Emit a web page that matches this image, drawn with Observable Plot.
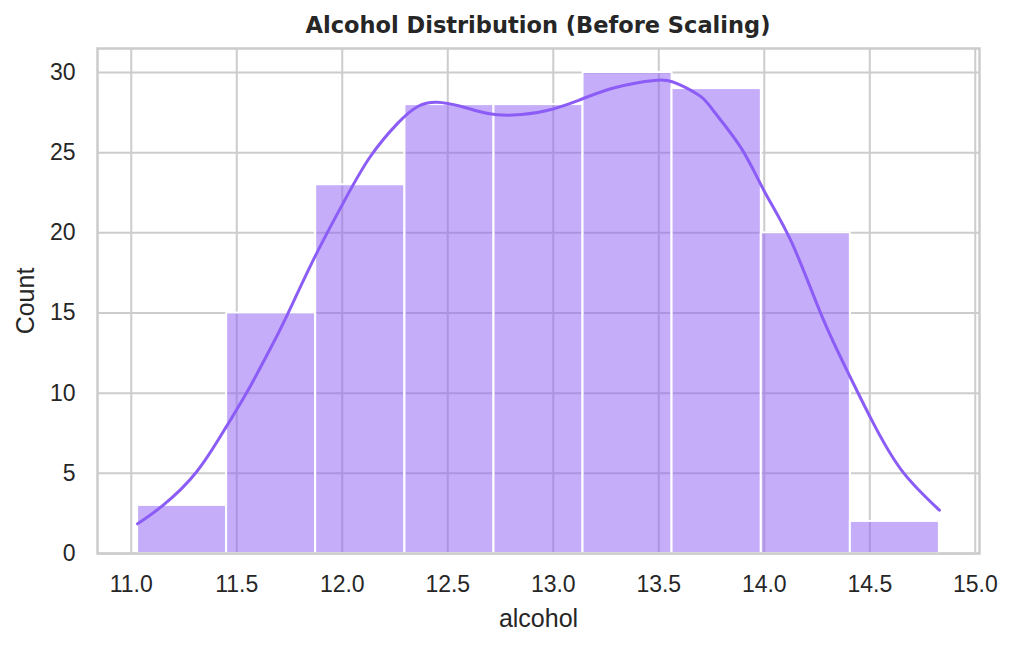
<!DOCTYPE html>
<html>
<head>
<meta charset="utf-8">
<script src="https://cdn.jsdelivr.net/npm/d3@7"></script>
<script src="https://cdn.jsdelivr.net/npm/@observablehq/plot@0.6"></script>
<style>
  html, body { margin: 0; padding: 0; background: #ffffff; }
  #wrap { position: relative; width: 1014px; height: 646px; overflow: hidden; font-family: "Liberation Sans", Arial, sans-serif; }
  #title { position: absolute; left: 97px; width: 882px; top: 14px; text-align: center; font-family: "DejaVu Sans", sans-serif; font-size: 22.5px; line-height: 22px; font-weight: bold; color: #262626; white-space: nowrap; }
  #chart { position: absolute; left: 0; top: 0; }
</style>
</head>
<body>
<div id="wrap">
  <div id="chart"></div>
  <div id="title">Alcohol Distribution (Before Scaling)</div>
</div>
<script>
// Histogram bins (edges) and counts
const binEdges = [11.03, 11.452, 11.874, 12.297, 12.719, 13.141, 13.563, 13.986, 14.408, 14.83];
const counts = [3, 15, 23, 28, 28, 30, 29, 20, 2];

// KDE curve (in count units)
const kdeX = [11.03, 11.15, 11.31, 11.45, 11.55, 11.66, 11.74, 11.87, 12.01, 12.13, 12.26, 12.36, 12.45, 12.56, 12.69, 12.81, 12.96, 13.12, 13.29, 13.48, 13.59, 13.70, 13.76, 13.89, 14.00, 14.13, 14.27, 14.40, 14.51, 14.65, 14.83];
const kdeY = [1.85, 3.0, 5.1, 7.9, 10.1, 12.8, 14.9, 18.5, 22.0, 24.7, 26.8, 27.9, 28.15, 27.9, 27.45, 27.35, 27.6, 28.27, 29.05, 29.51, 29.3, 28.5, 27.6, 25.3, 22.6, 19.4, 14.9, 11.2, 8.3, 5.2, 2.7];

// Axis ticks
const xTicks = [11.0, 11.5, 12.0, 12.5, 13.0, 13.5, 14.0, 14.5, 15.0];
const yTicks = [0, 5, 10, 15, 20, 25, 30];

const bins = counts.map((c, i) => ({x1: binEdges[i], x2: binEdges[i + 1], count: c}));
const kde = kdeX.map((x, i) => ({x, y: kdeY[i]}));

const violet = "#8b5cf6";
const gridColor = "#cccccc";
const textColor = "#262626";

const chart = Plot.plot({
  width: 1014,
  height: 646,
  marginTop: 48,
  marginBottom: 93,
  marginLeft: 97,
  marginRight: 35,
  style: {fontFamily: "'Liberation Sans', Arial, sans-serif", fontSize: "23px", color: textColor, background: "#ffffff"},
  x: {domain: [10.84, 15.02], ticks: xTicks, tickFormat: d3.format(".1f"), tickSize: 0, tickPadding: 23, label: null},
  y: {domain: [0, 31.5], ticks: yTicks, tickSize: 0, tickPadding: 22, label: null},
  marks: [
    Plot.gridX(xTicks, {stroke: gridColor, strokeOpacity: 1, strokeWidth: 2}),
    Plot.gridY(yTicks, {stroke: gridColor, strokeOpacity: 1, strokeWidth: 2}),
    Plot.rectY(bins, {x1: "x1", x2: "x2", y: "count", fill: violet, fillOpacity: 0.5, stroke: "#ffffff", strokeWidth: 2}),
    Plot.line(kde, {x: "x", y: "y", stroke: violet, strokeWidth: 3, curve: "natural"}),
    Plot.frame({stroke: gridColor, strokeWidth: 2.5}),
    Plot.axisX({ticks: xTicks, tickFormat: d3.format(".1f"), tickSize: 0, tickPadding: 22, label: null, fill: textColor, fontSize: 23}),
    Plot.axisY({ticks: yTicks, tickSize: 0, tickPadding: 22, label: null, fill: textColor, fontSize: 23}),
    Plot.text(["alcohol"], {frameAnchor: "bottom", lineAnchor: "middle", textAnchor: "middle", dy: 65, fontSize: 25, fill: textColor}),
    Plot.text(["Count"], {frameAnchor: "left", lineAnchor: "middle", textAnchor: "middle", dx: -72, rotate: -90, fontSize: 25, fill: textColor})
  ]
});
document.getElementById("chart").appendChild(chart);
</script>
</body>
</html>
